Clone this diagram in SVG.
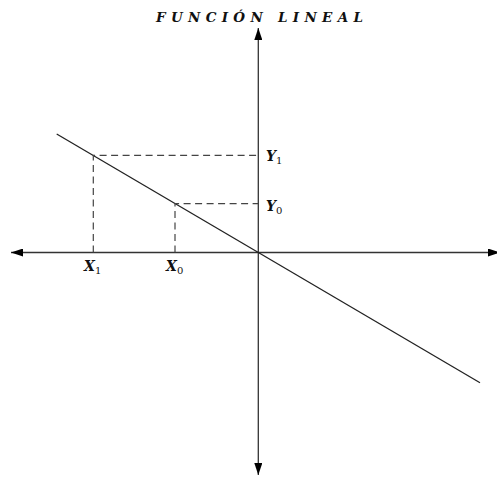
<svg xmlns="http://www.w3.org/2000/svg" width="497" height="477" viewBox="0 0 497 477">
<style>
.ax{stroke:#333;stroke-width:1.3;fill:none}
.ln{stroke:#222;stroke-width:1.3;fill:none}
.dash{stroke:#444;stroke-width:1.2;stroke-dasharray:7 4.5;fill:none}
.lbl{font-family:"DejaVu Serif","Liberation Serif",serif;font-weight:bold;font-style:italic;font-size:14px;fill:#111}
.ttl{font-family:"DejaVu Serif","Liberation Serif",serif;font-weight:bold;font-style:italic;font-size:13.5px;fill:#111}
.sub{font-size:10px;font-style:normal;font-weight:normal}
</style>
<defs>
<marker id="arr" viewBox="0 0 12 8" refX="12" refY="4" markerWidth="12" markerHeight="8" markerUnits="userSpaceOnUse" orient="auto">
<path d="M0,0 L12,4 L0,8 Z" fill="#000"/>
</marker>
</defs>
<rect width="497" height="477" fill="#fff"/>
<text class="ttl" x="156" y="22" textLength="207" lengthAdjust="spacing">FUNCIÓN LINEAL</text>
<g id="connectors">
<line id="x-axis-left" class="ax" x1="258.3" y1="252.5" x2="11" y2="252.5" marker-end="url(#arr)"/>
<line id="x-axis-right" class="ax" x1="258.3" y1="252.5" x2="500" y2="252.5" marker-end="url(#arr)"/>
<line id="y-axis-up" class="ax" x1="258.3" y1="252.5" x2="258.3" y2="28" marker-end="url(#arr)"/>
<line id="y-axis-down" class="ax" x1="258.3" y1="252.5" x2="258.3" y2="475" marker-end="url(#arr)"/>
<line id="func" class="ln" x1="56.7" y1="134" x2="480" y2="382.7"/>
<polyline class="dash" points="93.3,252.5 93.3,155.3 258.3,155.3"/>
<polyline class="dash" points="175,252.5 175,203.6 258.3,203.6"/>
</g>
<g id="label-Y1"><text class="lbl" x="266" y="160.5">Y<tspan class="sub" dy="3">1</tspan></text></g>
<g id="label-Y0"><text class="lbl" x="266" y="210.5">Y<tspan class="sub" dy="3">0</tspan></text></g>
<g id="label-X1"><text class="lbl" x="84" y="271">X<tspan class="sub" dy="3">1</tspan></text></g>
<g id="label-X0"><text class="lbl" x="166" y="271">X<tspan class="sub" dy="3">0</tspan></text></g>
</svg>
